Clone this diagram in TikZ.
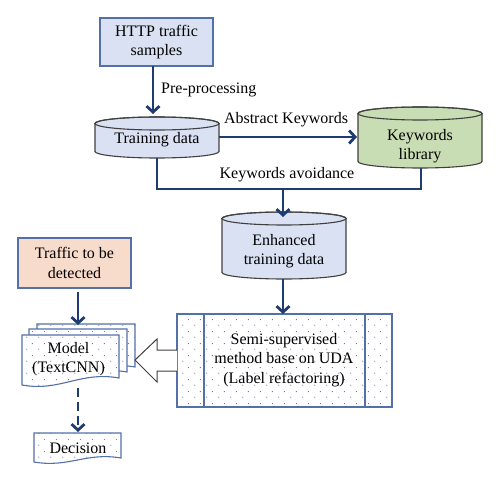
\documentclass[tikz,border=0pt]{standalone}
\usepackage{fontspec}
\setmainfont{Liberation Serif}
\usetikzlibrary{arrows.meta,patterns.meta}
\definecolor{navy}{HTML}{1F3C70}
\definecolor{lblue}{HTML}{D9E1F2}
\definecolor{bblue}{HTML}{5470A8}
\definecolor{cylgray}{HTML}{404040}
\definecolor{kgreen}{HTML}{C8DDB3}
\definecolor{peach}{HTML}{F8DCCB}
\definecolor{dotblue}{HTML}{4A6DB5}
\tikzdeclarepattern{
  name=bluedots,
  type=uncolored,
  bounding box={(0pt,0pt) and (12pt,12pt)},
  tile size={(12pt,12pt)},
  code={\fill (3pt,3pt) circle (0.6pt); \fill (9pt,9pt) circle (0.6pt);}
}
\begin{document}
\begin{tikzpicture}[x=1pt,y=1pt,
  every node/.style={font=\fontsize{16}{19.5}\selectfont, align=center, inner sep=0pt},
  flow/.style={draw=navy, line width=2.8pt, -{Straight Barb[length=6pt,width=13pt]}},
  link/.style={draw=navy, line width=2.8pt},
  boxblue/.style={draw=bblue, line width=1.1pt, fill=lblue},
  boxpeach/.style={draw=bblue, line width=1.1pt, fill=peach},
  cylblue/.style={draw=cylgray, line width=1.1pt, fill=lblue},
  cylgreen/.style={draw=cylgray, line width=1.1pt, fill=kgreen},
  dotted box/.style={draw=bblue, line width=1.1pt, fill=white, postaction={pattern=bluedots, pattern color=dotblue}},
  hollow/.style={draw=cylgray, line width=1pt, fill=white}
]
\useasboundingbox (0,0) rectangle (500,483);

% HTTP traffic samples
\draw[boxblue] (100,417) rectangle (213,465);
\node (http) at (156.5,441) {HTTP traffic\\samples};
\coordinate (httpS) at (153,417);

% Training data cylinder
\draw[cylblue] (95,359.5) -- (95,331.5) arc[start angle=180,end angle=360,x radius=62,y radius=6.5] -- (219,359.5) arc[start angle=0,end angle=180,x radius=62,y radius=6.5] -- cycle;
\draw[cylgray, line width=1.1pt] (157,359.5) ellipse[x radius=62,y radius=6.5];
\node (train) at (157,343) {Training data};
\coordinate (trainN) at (153,369);
\coordinate (trainE) at (219,346);
\coordinate (trainS) at (157,325);

% Keywords library cylinder
\draw[cylgreen] (358,369.5) -- (358,321.5) arc[start angle=180,end angle=360,x radius=62,y radius=6.5] -- (482,369.5) arc[start angle=0,end angle=180,x radius=62,y radius=6.5] -- cycle;
\draw[cylgray, line width=1.1pt] (420,369.5) ellipse[x radius=62,y radius=6.5];
\node (kw) at (420,337) {Keywords\\library};
\coordinate (kwW) at (357,346);
\coordinate (kwS) at (421,315);

% Enhanced training data cylinder
\draw[cylblue] (222,264.5) -- (222,210.5) arc[start angle=180,end angle=360,x radius=62,y radius=6.5] -- (346,264.5) arc[start angle=0,end angle=180,x radius=62,y radius=6.5] -- cycle;
\draw[cylgray, line width=1.1pt] (284,264.5) ellipse[x radius=62,y radius=6.5];
\node (enh) at (284,232) {Enhanced\\training data};
\coordinate (enhN) at (283,266);
\coordinate (enhS) at (283,204);

% Semi-supervised box
\draw[dotted box] (177,76) rectangle (392,169);
\draw[bblue, line width=1.1pt] (204,76) -- (204,169);
\draw[bblue, line width=1.1pt] (365,76) -- (365,169);
\node (semi) at (284,123) {Semi-supervised\\method base on UDA\\(Label refactoring)};
\coordinate (semiN) at (283,169);
\coordinate (semiW) at (177,122.5);

% Traffic to be detected
\draw[boxpeach] (18,195) rectangle (131,245);
\node (traffic) at (74.5,220) {Traffic to be\\detected};
\coordinate (trafficS) at (78,191);

% Model (multidocument)
\draw[dotted box] (37,159) -- (135,159) -- (135,116) .. controls (96,123) and (76,102) .. (37,109) -- cycle;
\draw[dotted box] (29,154) -- (127,154) -- (127,111) .. controls (88,118) and (68,97) .. (29,104) -- cycle;
\draw[dotted box] (22,148) -- (119,148) -- (119,105) .. controls (80,112) and (60,91) .. (22,98) -- cycle;
\node (model) at (68.5,124) {Model\\(TextCNN)};
\coordinate (modelN) at (78,158);
\coordinate (modelS) at (78,95);
\coordinate (modelE) at (135,123);

% Decision
\draw[dotted box] (34,50) -- (121,50) -- (121,25) .. controls (86,31) and (69,15) .. (34,21) -- cycle;
\node (dec) at (78,35) {Decision};
\coordinate (decN) at (78,51);

% Hollow arrow
\draw[hollow] (semiW |- 0,133) -- (157,133) -- (157,144) -- (modelE) -- (157,101) -- (157,112) -- (semiW |- 0,112);

% Connectors
\draw[flow] (httpS) -- (trainN);
\node[anchor=west] (pre) at (161,393) {Pre-processing};
\draw[flow] (trainE) -- (kwW);
\node (abs) at (286,363) {Abstract Keywords};
\draw[link] (trainS) |- (421,294) -- (kwS);
\coordinate (mid) at (283,294);
\draw[flow] (mid) -- (enhN);
\node (avoid) at (287,308) {Keywords avoidance};
\draw[flow] (enhS) -- (semiN);
\draw[flow] (trafficS) -- (modelN);
\draw[flow, dash pattern=on 9pt off 5pt] (modelS) -- (decN);
\end{tikzpicture}
\end{document}
